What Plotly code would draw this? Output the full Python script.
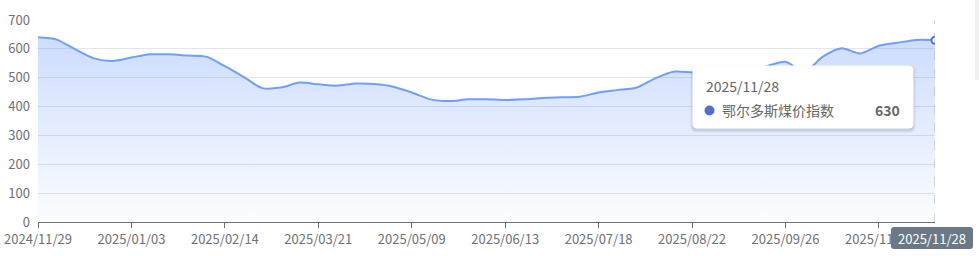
import plotly.graph_objects as go

# ---------------- data ----------------
dates = [
    "2024/11/29", "2024/12/06", "2024/12/13", "2024/12/20", "2024/12/27",
    "2025/01/03", "2025/01/10", "2025/01/17", "2025/01/24", "2025/02/07",
    "2025/02/14", "2025/02/21", "2025/02/28", "2025/03/07", "2025/03/14",
    "2025/03/21", "2025/03/28", "2025/04/11", "2025/04/18", "2025/04/25",
    "2025/05/09", "2025/05/16", "2025/05/23", "2025/05/30", "2025/06/06",
    "2025/06/13", "2025/06/20", "2025/06/27", "2025/07/04", "2025/07/11",
    "2025/07/18", "2025/07/25", "2025/08/01", "2025/08/08", "2025/08/15",
    "2025/08/22", "2025/08/29", "2025/09/05", "2025/09/12", "2025/09/19",
    "2025/09/26", "2025/10/10", "2025/10/17", "2025/10/24", "2025/10/31",
    "2025/11/07", "2025/11/14", "2025/11/21", "2025/11/28",
]
values = [
    640, 632, 598, 567, 558,
    570, 581, 581, 577, 573,
    540, 503, 464, 466, 483,
    477, 472, 480, 478, 469,
    449, 425, 419, 425, 425,
    423, 425, 430, 432, 434,
    449, 457, 465, 497, 521,
    518, 515, 512, 520, 540,
    555, 520, 573, 602, 584,
    611, 621, 631, 630,
]
series_name = "鄂尔多斯煤价指数"
x_tick_labels = [dates[i] for i in range(0, 46, 5)]
y_ticks = [0, 100, 200, 300, 400, 500, 600, 700]

# ---------------- layout geometry ----------------
W, H = 979, 256
L, R, T, B = 38, 935, 20, 222   # plot area in pixels
FONT = "Noto Sans CJK SC, Microsoft YaHei, sans-serif"
AXIS_GRAY = "#6e7079"
LINE_BLUE = "#6ea0fb"
DOT_BLUE = "#5470c6"


def px(x):
    return (x - L) / (R - L)


def py(y):
    return (B - y) / (B - T)


def rrect(x0, y0, x1, y1, r):
    X0, X1 = px(x0), px(x1)
    Y0, Y1 = py(y0), py(y1)  # Y0 top (larger), Y1 bottom
    rx = r / (R - L)
    ry = r / (B - T)
    return (f"M {X0+rx},{Y0} L {X1-rx},{Y0} Q {X1},{Y0} {X1},{Y0-ry} "
            f"L {X1},{Y1+ry} Q {X1},{Y1} {X1-rx},{Y1} L {X0+rx},{Y1} "
            f"Q {X0},{Y1} {X0},{Y1+ry} L {X0},{Y0-ry} Q {X0},{Y0} {X0+rx},{Y0} Z")


fig = go.Figure()

fig.add_trace(go.Scatter(
    x=dates, y=values, mode="lines", name=series_name,
    line=dict(color=LINE_BLUE, width=2, shape="spline", smoothing=0.8),
    fill="tozeroy",
    fillgradient=dict(
        type="vertical",
        start=0, stop=640,
        colorscale=[[0, "rgba(90,140,250,0.02)"], [1, "rgba(90,140,250,0.30)"]],
    ),
    hoverinfo="skip",
))

# highlighted last point
fig.add_trace(go.Scatter(
    x=[dates[-1]], y=[values[-1]], mode="markers",
    marker=dict(size=7, color="white", line=dict(color=DOT_BLUE, width=2)),
    hoverinfo="skip", showlegend=False,
))

shapes = []
# axis pointer dashed line
shapes.append(dict(type="line", xref="x", yref="paper", x0=dates[-1], x1=dates[-1],
                   y0=0, y1=1, line=dict(color="#aab3c2", width=1, dash="dash"), layer="above"))
# tooltip shadow layers
for i, a in enumerate([0.03, 0.04, 0.06]):
    g = 3 - i
    shapes.append(dict(type="path", xref="paper", yref="paper",
                       path=rrect(693 - g, 66 - g + 2, 913 + g, 128 + g + 2, 4 + g),
                       fillcolor=f"rgba(0,0,0,{a})", line=dict(width=0), layer="above"))
shapes.append(dict(type="path", xref="paper", yref="paper",
                   path=rrect(693, 66, 913, 128, 4),
                   fillcolor="white", line=dict(color="white", width=1), layer="above"))
# tooltip dot
shapes.append(dict(type="circle", xref="paper", yref="paper",
                   x0=px(704.5), x1=px(714.5), y0=py(105.5), y1=py(115.5),
                   fillcolor=DOT_BLUE, line=dict(width=0), layer="above"))
# axis pointer label box
shapes.append(dict(type="path", xref="paper", yref="paper",
                   path=rrect(891, 227, 973, 249, 3),
                   fillcolor="#6a7985", line=dict(width=0), layer="above"))
# light gray strip at right edge
shapes.append(dict(type="rect", xref="paper", yref="paper",
                   x0=px(975), x1=px(979), y0=py(80), y1=py(0),
                   fillcolor="#f1f1f1", line=dict(width=0), layer="above"))

annotations = [
    dict(xref="paper", yref="paper", x=px(704), y=py(86), xanchor="left", yanchor="middle",
         text=dates[-1], showarrow=False, font=dict(family=FONT, size=14, color="#666666")),
    dict(xref="paper", yref="paper", x=px(720), y=py(110.5), xanchor="left", yanchor="middle",
         text=series_name, showarrow=False, font=dict(family=FONT, size=14, color="#666666")),
    dict(xref="paper", yref="paper", x=px(902), y=py(110.5), xanchor="right", yanchor="middle",
         text=f"<b>{values[-1]}</b>", showarrow=False, font=dict(family=FONT, size=14, color="#666666")),
    dict(xref="paper", yref="paper", x=px(932), y=py(238), xanchor="center", yanchor="middle",
         text=dates[-1], showarrow=False, font=dict(family=FONT, size=13, color="white")),
]

fig.update_layout(
    width=W, height=H,
    margin=dict(l=L, r=W - R, t=T, b=H - B, pad=0, autoexpand=False),
    paper_bgcolor="white", plot_bgcolor="white",
    showlegend=False,
    font=dict(family=FONT, size=12, color=AXIS_GRAY),
    shapes=shapes, annotations=annotations,
    xaxis=dict(
        type="category", range=[0, len(dates) - 1], automargin=False,
        tickmode="array", tickvals=x_tick_labels, ticktext=x_tick_labels,
        ticks="outside", ticklen=5, tickcolor=AXIS_GRAY, tickwidth=1,
        showline=True, linecolor=AXIS_GRAY, linewidth=1,
        showgrid=False, zeroline=False,
        tickfont=dict(family=FONT, size=13, color=AXIS_GRAY),
        ticklabelstandoff=0,
        tickangle=0, layer="above traces",
    ),
    yaxis=dict(
        range=[0, 700], tickmode="array", tickvals=y_ticks, automargin=False,
        showgrid=True, gridcolor="#e0e6f1", gridwidth=1,
        zeroline=False, showline=False, ticks="",
        ticklabelstandoff=7,
        tickfont=dict(family=FONT, size=13, color=AXIS_GRAY),
    ),
)

fig.write_html("out.html")
